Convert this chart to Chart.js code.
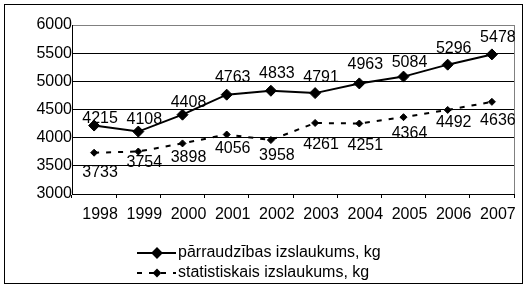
<!DOCTYPE html>
<html>
<head>
<meta charset="utf-8">
<script src="https://cdn.jsdelivr.net/npm/chart.js@4.4.1/dist/chart.umd.min.js"></script>
<style>
  body { margin: 0; background: #fff; }
  canvas { display: block; }
</style>
</head>
<body>
<canvas id="grafiks" width="528" height="299"></canvas>
<script>
//---------------- dati ----------------
var gadi = ['1998', '1999', '2000', '2001', '2002', '2003', '2004', '2005', '2006', '2007'];
var parraudzibas = [4215, 4108, 4408, 4763, 4833, 4791, 4963, 5084, 5296, 5478];
var statistiskais = [3733, 3754, 3898, 4056, 3958, 4261, 4251, 4364, 4492, 4636];
var yTicks = [3000, 3500, 4000, 4500, 5000, 5500, 6000];
var nosaukumi = ['pārraudzības izslaukums, kg', 'statistiskais izslaukums, kg'];

// label nudges (px, relative to the point) - just to sit like the original
var nobideA = [-7, -12, -12, -17, -17, -16, -19, -14, -16, -17];
var nobideB = [20, 11, 14, 14, 16, 22, 22, 16, 13, 19];

var fonts = '"Liberation Sans", Arial, sans-serif';

//---------------- plugini ----------------
var ramis = {
    id: 'ramis',
    beforeDraw: function(chart) {
        var ctx = chart.ctx;
        ctx.save();
        ctx.fillStyle = '#fff';
        ctx.fillRect(0, 0, chart.width, chart.height);
        ctx.strokeStyle = '#000';
        ctx.lineWidth = 1;
        ctx.strokeRect(4.5, 4.5, 518, 279);
        ctx.restore();
    },
    afterDatasetsDraw: function(chart) {
        var ctx = chart.ctx;
        var a = chart.chartArea;
        ctx.save();
        // plot area right border (grey)
        ctx.strokeStyle = '#808080';
        ctx.lineWidth = 1;
        ctx.beginPath();
        ctx.moveTo(Math.round(a.right) + 0.5, a.top);
        ctx.lineTo(Math.round(a.right) + 0.5, a.bottom);
        ctx.stroke();

        // vertibas pie punktiem
        ctx.fillStyle = '#000';
        ctx.font = '16px ' + fonts;
        ctx.textAlign = 'center';
        ctx.textBaseline = 'middle';
        var nob = [nobideA, nobideB];
        chart.data.datasets.forEach(function(ds, di) {
            var meta = chart.getDatasetMeta(di);
            meta.data.forEach(function(p, i) {
                ctx.fillText(String(ds.data[i]), p.x + 6, p.y + nob[di][i]);
            });
        });
        ctx.restore();
    },
    afterDraw: function(chart) {
        // legend, one row per series
        var ctx = chart.ctx;
        ctx.save();
        ctx.font = '16px ' + fonts;
        ctx.textAlign = 'left';
        ctx.textBaseline = 'middle';
        chart.data.datasets.forEach(function(ds, di) {
            var y = 253 + di * 20;
            ctx.strokeStyle = ds.borderColor;
            ctx.lineWidth = ds.borderWidth;
            ctx.setLineDash(ds.borderDash || []);
            ctx.beginPath();
            ctx.moveTo(137, y);
            ctx.lineTo(176, y);
            ctx.stroke();
            ctx.setLineDash([]);
            ctx.fillStyle = '#000';
            ctx.strokeStyle = '#000';
            Chart.helpers.drawPoint(ctx, {
                pointStyle: 'rectRot',
                radius: di === 0 ? 4.5 : 3,
                borderWidth: 1
            }, 157, y);
            ctx.fillText(ds.label, 178, y);
        });
        ctx.restore();
    }
};

//---------------- grafiks ----------------
var c = document.getElementById('grafiks');
var chart = new Chart(c, {
    type: 'line',
    data: {
        labels: gadi,
        datasets: [{
            label: nosaukumi[0],
            data: parraudzibas,
            borderColor: '#000',
            backgroundColor: '#000',
            borderWidth: 2,
            pointStyle: 'rectRot',
            pointRadius: 5.5,
            pointBorderWidth: 1,
            pointBackgroundColor: '#000',
            pointBorderColor: '#000'
        }, {
            label: nosaukumi[1],
            data: statistiskais,
            borderColor: '#000',
            backgroundColor: '#000',
            borderWidth: 2,
            borderDash: [5, 7],
            pointStyle: 'rectRot',
            pointRadius: 3.5,
            pointBorderWidth: 1,
            pointBackgroundColor: '#000',
            pointBorderColor: '#000'
        }]
    },
    options: {
        responsive: false,
        animation: false,
        events: [],
        layout: { padding: { left: 8, top: 25, right: 14, bottom: 0 } },
        plugins: {
            legend: { display: false },
            tooltip: { enabled: false }
        },
        scales: {
            x: {
                offset: true,
                grid: {
                    offset: true,
                    drawOnChartArea: false,
                    drawTicks: true,
                    tickLength: 4,
                    color: '#000'
                },
                border: { color: '#000', width: 1 },
                ticks: {
                    color: '#000',
                    font: { family: fonts, size: 16 },
                    maxRotation: 0,
                    autoSkip: false,
                    padding: 7,
                    labelOffset: 6
                },
                afterFit: function(s) { s.height = 105; }
            },
            y: {
                min: 3000,
                max: 6000,
                afterBuildTicks: function(s) {
                    s.ticks = yTicks.map(function(v) { return { value: v }; });
                },
                grid: {
                    drawTicks: false,
                    color: function(ctx) {
                        return ctx.tick && ctx.tick.value === 6000 ? '#808080' : '#000';
                    }
                },
                border: { color: '#000', width: 1 },
                ticks: {
                    color: '#000',
                    font: { family: fonts, size: 16 },
                    padding: 0,
                    callback: function(v) { return String(v); }
                },
                afterFit: function(s) { s.width = 64; }
            }
        }
    },
    plugins: [ramis]
});
</script>
</body>
</html>
